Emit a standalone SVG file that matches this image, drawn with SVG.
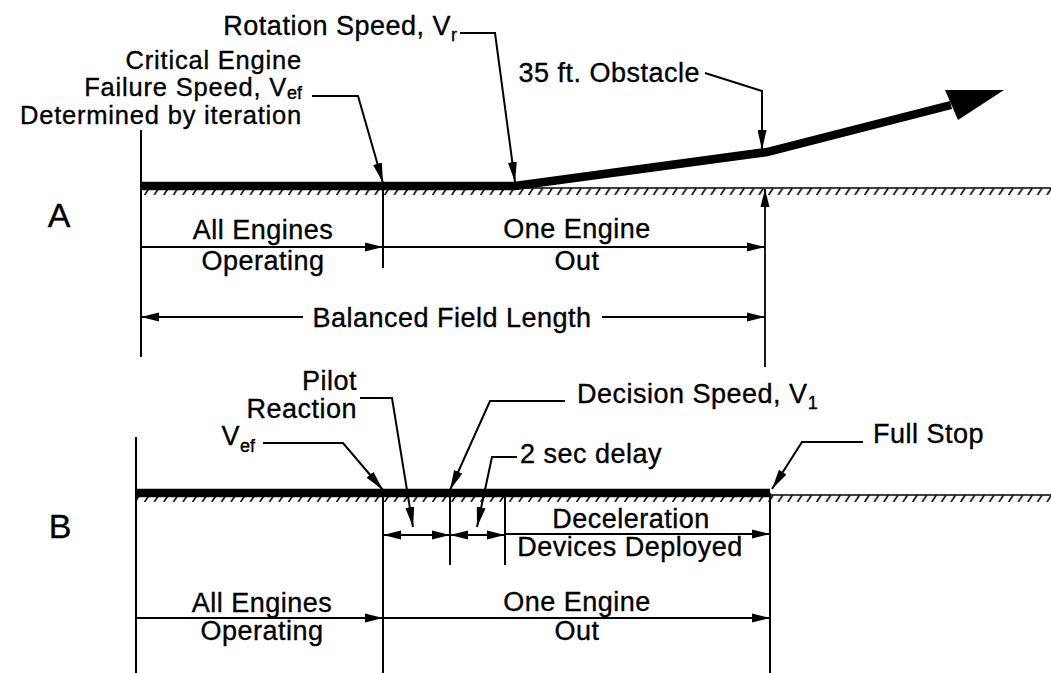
<svg xmlns="http://www.w3.org/2000/svg" width="1051" height="673" viewBox="0 0 1051 673">
<style>
text{font-family:"Liberation Sans",Arial,sans-serif;font-size:27px;fill:#000;stroke:#000;stroke-width:0.35;letter-spacing:0.5px}
.big{font-size:34px;letter-spacing:0}
.sub{font-size:18px;letter-spacing:0}
.crit{font-size:25.5px;letter-spacing:0.8px}
.mid{text-anchor:middle}
.end{text-anchor:end}
.ln{fill:none;stroke:#000;stroke-width:2}
.dim{fill:none;stroke:#000;stroke-width:1.8;marker-end:url(#dh)}
.dim2{fill:none;stroke:#000;stroke-width:1.8;marker-start:url(#dh);marker-end:url(#dh)}
.thick{fill:none;stroke:#000;stroke-width:8.5}
.lead{fill:none;stroke:#000;stroke-width:2;marker-end:url(#ah)}
</style>
<defs>
<pattern id="hatch" patternUnits="userSpaceOnUse" width="9.6" height="7">
<path d="M0.6,7 L5,0.3" stroke="#000" stroke-width="1.6"/>
</pattern>
<marker id="ah" markerUnits="userSpaceOnUse" markerWidth="20" markerHeight="9" refX="20" refY="4.5" orient="auto">
<path d="M0,0 L20,4.5 L0,9 z" fill="#000"/>
</marker>
<marker id="dh" markerUnits="userSpaceOnUse" markerWidth="18" markerHeight="10" refX="18" refY="5" orient="auto-start-reverse">
<path d="M0,0.5 L18,5 L0,9.5 z" fill="#000"/>
</marker>
</defs>
<rect width="1051" height="673" fill="#fff"/>

<!-- Ground A -->
<g id="groundA">
<g transform="translate(0,188)"><rect x="141" y="0" width="910" height="7" fill="url(#hatch)"/></g>
<line x1="141" y1="188" x2="1051" y2="188" stroke="#000" stroke-width="1.6"/>
<path class="thick" d="M141,186 H515 L767,152 L951,105"/>
<polygon points="1004,90 945,90 958,120" fill="#000"/>
</g>

<!-- Ground B -->
<g id="groundB">
<g transform="translate(0,495)"><rect x="136" y="0" width="915" height="7" fill="url(#hatch)"/></g>
<line x1="136" y1="495" x2="1051" y2="495" stroke="#000" stroke-width="1.6"/>
<path class="thick" d="M136,493 H770"/>
</g>

<!-- Labels A -->
<g id="labelA"><text class="big mid" x="59" y="227">A</text></g>
<g id="rotation"><text class="end" x="457" y="35">Rotation Speed, V<tspan class="sub" dy="6">r</tspan></text></g>
<g id="critical">
<text class="end crit" x="302" y="69">Critical Engine</text>
<text class="end crit" x="302" y="96">Failure Speed, V<tspan class="sub" dy="3">ef</tspan></text>
<text class="end crit" x="302" y="124">Determined by iteration</text>
</g>
<g id="obstacle"><text class="end" x="700" y="82">35 ft. Obstacle</text></g>
<g id="allEnginesA">
<text class="mid" x="263" y="239">All Engines</text>
<text class="mid" x="263" y="270">Operating</text>
</g>
<g id="oneEngineA">
<text class="mid" x="577" y="238">One Engine</text>
<text class="mid" x="577" y="270">Out</text>
</g>
<g id="bfl"><text class="mid" x="452" y="327">Balanced Field Length</text></g>

<!-- Labels B -->
<g id="labelB"><text class="big mid" x="60" y="538">B</text></g>
<g id="pilot">
<text class="end" x="357" y="390">Pilot</text>
<text class="end" x="357" y="418">Reaction</text>
</g>
<g id="vefB"><text class="end" x="255" y="445">V<tspan class="sub" dy="7">ef</tspan></text></g>
<g id="decision"><text x="577" y="403">Decision Speed, V<tspan class="sub" dy="6">1</tspan></text></g>
<g id="delay"><text x="520" y="463">2 sec delay</text></g>
<g id="fullstop"><text x="873" y="443">Full Stop</text></g>
<g id="decel">
<text class="mid" x="631" y="528">Deceleration</text>
<text class="mid" x="630" y="556">Devices Deployed</text>
</g>
<g id="allEnginesB">
<text class="mid" x="262" y="612">All Engines</text>
<text class="mid" x="262" y="640">Operating</text>
</g>
<g id="oneEngineB">
<text class="mid" x="577" y="611">One Engine</text>
<text class="mid" x="577" y="640">Out</text>
</g>

<!-- Connectors -->
<g id="connectors">
<path class="ln" d="M141,130 V357"/>
<path class="ln" d="M383,186 V268"/>
<path class="dim" d="M765,367 V189"/>
<path class="dim" d="M141,247 H383"/>
<path class="dim" d="M383,247 H765"/>
<path class="dim" d="M303,317 H141"/>
<path class="dim" d="M602,317 H765"/>
<path class="lead" d="M312,96 H358 L383,183"/>
<path class="lead" d="M460,33 H495 L515,182"/>
<path class="lead" d="M705,73 L762,91 V150"/>

<path class="ln" d="M136,437 V673"/>
<path class="ln" d="M383,493 V673"/>
<path class="ln" d="M450,493 V565"/>
<path class="ln" d="M505,497 V565"/>
<path class="ln" d="M770,493 V673"/>
<path class="dim2" d="M383,535 H450"/>
<path class="dim2" d="M450,535 H505"/>
<path class="dim" d="M505,534 H770"/>
<path class="dim" d="M136,618 H383"/>
<path class="dim" d="M383,618 H770"/>
<path class="lead" d="M263,443 H343 L383,490"/>
<path class="lead" d="M360,398 H392 L413,527"/>
<path class="lead" d="M565,401 H490 L450,490"/>
<path class="lead" d="M517,457 H492 L477,527"/>
<path class="lead" d="M863,442 H802 L772,489"/>
</g>
</svg>
